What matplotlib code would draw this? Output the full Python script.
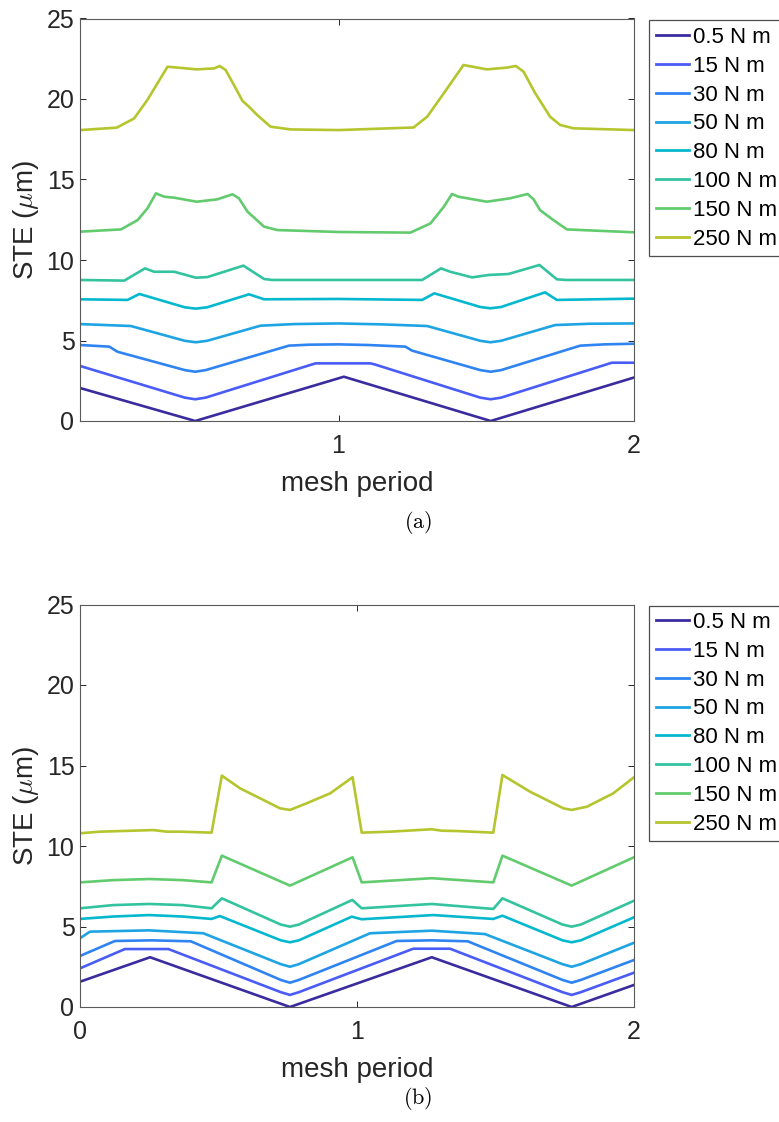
import matplotlib
matplotlib.use("Agg")
import matplotlib.pyplot as plt

plt.rcParams["font.family"] = ["Liberation Sans", "DejaVu Sans"]
plt.rcParams["mathtext.fontset"] = "cm"

# ---------------------------------------------------------------- labels
labels = ["0.5 N m", "15 N m", "30 N m", "50 N m",
          "80 N m", "100 N m", "150 N m", "250 N m"]
colors = ["#3A2C9E", "#4A5CF6", "#2F84F2", "#1FA4E3",
          "#05B8CE", "#33C3A0", "#62CB6E", "#B5C52E"]

# ---------------------------------------------------------------- panel (a)
a_x_05 = [0.125, 0.515, 1.018, 1.515, 2.0]
a_y_05 = [2.05, 0.0, 2.75, 0.0, 2.70]

a_x_15 = [0.125, 0.48, 0.515, 0.55, 0.922, 1.108, 1.125, 1.48, 1.515, 1.55, 1.925, 2.0]
a_y_15 = [3.42, 1.45, 1.35, 1.45, 3.58, 3.58, 3.50, 1.45, 1.35, 1.45, 3.62, 3.62]

a_x_30 = [0.125, 0.224, 0.252, 0.48, 0.515, 0.55, 0.832, 0.9, 1.0, 1.1, 1.226,
          1.249, 1.48, 1.515, 1.55, 1.818, 1.9, 2.0]
a_y_30 = [4.72, 4.62, 4.30, 3.16, 3.06, 3.16, 4.68, 4.74, 4.76, 4.72, 4.62,
          4.37, 3.16, 3.06, 3.16, 4.68, 4.76, 4.80]

a_x_50 = [0.125, 0.297, 0.48, 0.517, 0.555, 0.736, 0.85, 1.0, 1.15, 1.30,
          1.48, 1.514, 1.55, 1.733, 1.85, 2.0]
a_y_50 = [6.02, 5.90, 4.98, 4.89, 4.98, 5.92, 6.02, 6.06, 6.00, 5.90,
          4.98, 4.89, 4.98, 5.96, 6.04, 6.06]

a_x_80 = [0.125, 0.286, 0.326, 0.48, 0.517, 0.555, 0.697, 0.748, 1.0, 1.283,
          1.324, 1.48, 1.514, 1.55, 1.699, 1.739, 2.0]
a_y_80 = [7.56, 7.52, 7.89, 7.06, 6.98, 7.06, 7.87, 7.56, 7.58, 7.52,
          7.93, 7.08, 7.00, 7.08, 7.99, 7.52, 7.60]

a_x_100 = [0.125, 0.275, 0.345, 0.376, 0.444, 0.517, 0.556, 0.678, 0.748, 0.776,
           1.0, 1.283, 1.347, 1.378, 1.452, 1.508, 1.575, 1.68, 1.739, 1.77, 2.0]
a_y_100 = [8.76, 8.72, 9.48, 9.27, 9.27, 8.90, 8.94, 9.65, 8.82, 8.76,
           8.76, 8.76, 9.48, 9.27, 8.92, 9.07, 9.13, 9.69, 8.80, 8.76, 8.76]

a_x_150 = [0.125, 0.264, 0.32, 0.353, 0.382, 0.41, 0.444, 0.52, 0.59, 0.641,
           0.663, 0.692, 0.748, 0.793, 1.0, 1.243, 1.311, 1.356, 1.384, 1.406,
           1.502, 1.58, 1.64, 1.66, 1.682, 1.727, 1.773, 2.0]
a_y_150 = [11.76, 11.90, 12.48, 13.20, 14.14, 13.93, 13.87, 13.62, 13.77, 14.08,
           13.83, 13.00, 12.07, 11.86, 11.74, 11.70, 12.27, 13.30, 14.10, 13.93,
           13.62, 13.83, 14.10, 13.77, 13.10, 12.48, 11.90, 11.72]

a_x_250 = [0.125, 0.249, 0.308, 0.353, 0.387, 0.421, 0.444, 0.52, 0.579, 0.598,
           0.618, 0.646, 0.675, 0.697, 0.725, 0.77, 0.838, 1.0, 1.254, 1.30,
           1.356, 1.423, 1.502, 1.57, 1.60, 1.626, 1.666, 1.716, 1.75, 1.795, 2.0]
a_y_250 = [18.07, 18.22, 18.79, 19.94, 20.97, 22.00, 21.97, 21.84, 21.90, 22.05,
           21.80, 20.87, 19.88, 19.52, 19.00, 18.28, 18.11, 18.07, 18.23, 18.90,
           20.35, 22.11, 21.84, 21.95, 22.05, 21.70, 20.35, 18.90, 18.39, 18.18, 18.07]

# ---------------------------------------------------------------- panel (b)
b_x_05 = [0.0, 0.253, 0.758, 1.27, 1.775, 2.0]
b_y_05 = [1.57, 3.09, 0.0, 3.09, 0.0, 1.37]

b_x_15 = [0.0, 0.162, 0.319, 0.725, 0.758, 0.79, 1.203, 1.336, 1.742, 1.775, 1.808, 2.0]
b_y_15 = [2.40, 3.60, 3.60, 0.92, 0.75, 0.92, 3.62, 3.62, 0.92, 0.75, 0.92, 2.13]

b_x_30 = [0.0, 0.126, 0.26, 0.40, 0.725, 0.758, 0.79, 1.143, 1.27, 1.40,
          1.742, 1.775, 1.808, 2.0]
b_y_30 = [3.17, 4.10, 4.14, 4.08, 1.68, 1.51, 1.68, 4.10, 4.14, 4.08,
          1.68, 1.51, 1.68, 2.92]

b_x_50 = [0.0, 0.036, 0.25, 0.445, 0.725, 0.758, 0.79, 1.047, 1.27, 1.462,
          1.742, 1.775, 1.808, 2.0]
b_y_50 = [4.27, 4.68, 4.76, 4.58, 2.66, 2.50, 2.66, 4.58, 4.74, 4.53,
          2.66, 2.50, 2.66, 3.99]

b_x_80 = [0.0, 0.12, 0.25, 0.37, 0.475, 0.505, 0.725, 0.758, 0.79, 0.981,
          1.017, 1.275, 1.492, 1.525, 1.742, 1.775, 1.808, 2.0]
b_y_80 = [5.47, 5.62, 5.71, 5.62, 5.47, 5.65, 4.14, 4.02, 4.14, 5.61,
          5.45, 5.71, 5.47, 5.67, 4.14, 4.02, 4.14, 5.57]

b_x_100 = [0.0, 0.12, 0.25, 0.37, 0.475, 0.512, 0.725, 0.758, 0.79, 0.983,
           1.017, 1.27, 1.492, 1.525, 1.742, 1.775, 1.808, 2.0]
b_y_100 = [6.13, 6.33, 6.40, 6.33, 6.13, 6.75, 5.12, 4.99, 5.12, 6.65,
           6.13, 6.40, 6.09, 6.75, 5.12, 4.99, 5.12, 6.60]

b_x_150 = [0.0, 0.12, 0.25, 0.37, 0.475, 0.512, 0.758, 0.984, 1.017, 1.27,
           1.492, 1.525, 1.775, 2.0]
b_y_150 = [7.74, 7.88, 7.95, 7.88, 7.74, 9.40, 7.54, 9.30, 7.74, 8.00,
           7.74, 9.40, 7.54, 9.30]

b_x_250 = [0.0, 0.072, 0.265, 0.313, 0.361, 0.475, 0.512, 0.578, 0.662, 0.722,
           0.758, 0.818, 0.903, 0.984, 1.017, 1.119, 1.27, 1.306, 1.36, 1.492,
           1.525, 1.625, 1.745, 1.775, 1.83, 1.925, 2.0]
b_y_250 = [10.79, 10.89, 10.99, 10.89, 10.89, 10.83, 14.37, 13.58, 12.86, 12.34,
           12.24, 12.65, 13.27, 14.27, 10.83, 10.89, 11.04, 10.95, 10.93, 10.83,
           14.41, 13.37, 12.34, 12.24, 12.44, 13.27, 14.27]

series_a = [(a_x_05, a_y_05), (a_x_15, a_y_15), (a_x_30, a_y_30), (a_x_50, a_y_50),
            (a_x_80, a_y_80), (a_x_100, a_y_100), (a_x_150, a_y_150), (a_x_250, a_y_250)]
series_b = [(b_x_05, b_y_05), (b_x_15, b_y_15), (b_x_30, b_y_30), (b_x_50, b_y_50),
            (b_x_80, b_y_80), (b_x_100, b_y_100), (b_x_150, b_y_150), (b_x_250, b_y_250)]

xlim_a = (0.125, 2.0)
xticks_a = [1, 2]
xlim_b = (0.0, 2.0)
xticks_b = [0, 1, 2]
yticks = [0, 5, 10, 15, 20, 25]

# ---------------------------------------------------------------- figure
W, H = 779, 1122
fig = plt.figure(figsize=(W / 100, H / 100), dpi=100)

axis_color = "#262626"
tick_fs = 18
label_fs = 20
legend_fs = 16


def panel(rect, series, xlim, xticks, caption, cap_y, leg_top):
    ax = fig.add_axes(rect)
    for (xs, ys), c, lab in zip(series, colors, labels):
        ax.plot(xs, ys, color=c, lw=1.9, label=lab, solid_joinstyle="round")
    ax.set_xlim(*xlim)
    ax.set_ylim(0, 25)
    ax.set_xticks(xticks)
    ax.set_yticks(yticks)
    ax.tick_params(direction="in", length=4, width=0.7, colors=axis_color,
                   labelsize=tick_fs, top=True, right=True, pad=4)
    ax.tick_params(axis="x", pad=9.5)
    for s in ax.spines.values():
        s.set_color("#5a5a5a")
        s.set_linewidth(0.8)
    ax.set_xlabel("mesh period", fontsize=label_fs, color=axis_color, labelpad=9)
    ax.set_ylabel(r"STE ($\mu$m)", fontsize=label_fs, color=axis_color, labelpad=4)
    leg = ax.legend(loc="upper left", bbox_to_anchor=(649 / W, leg_top),
                    bbox_transform=fig.transFigure, fontsize=legend_fs,
                    frameon=True, fancybox=False, borderaxespad=0,
                    borderpad=0.3, handlelength=1.5, handletextpad=0.2,
                    labelspacing=0.35)
    fr = leg.get_frame()
    fr.set_edgecolor("#222222")
    fr.set_linewidth(0.9)
    for line in leg.get_lines():
        line.set_linewidth(2.0)
    fig.text(418 / W, cap_y, caption, ha="center", va="center", fontsize=16)
    return ax


panel([80 / W, 1 - 421 / H, 554 / W, 402.5 / H], series_a, xlim_a, xticks_a,
      r"$\mathrm{(a)}$", 1 - 522 / H, 1 - 20.5 / H)
panel([80 / W, 1 - 1007 / H, 554 / W, 402.5 / H], series_b, xlim_b, xticks_b,
      r"$\mathrm{(b)}$", 1 - 1098 / H, 1 - 605.5 / H)

fig.savefig("out.png", dpi=100)
